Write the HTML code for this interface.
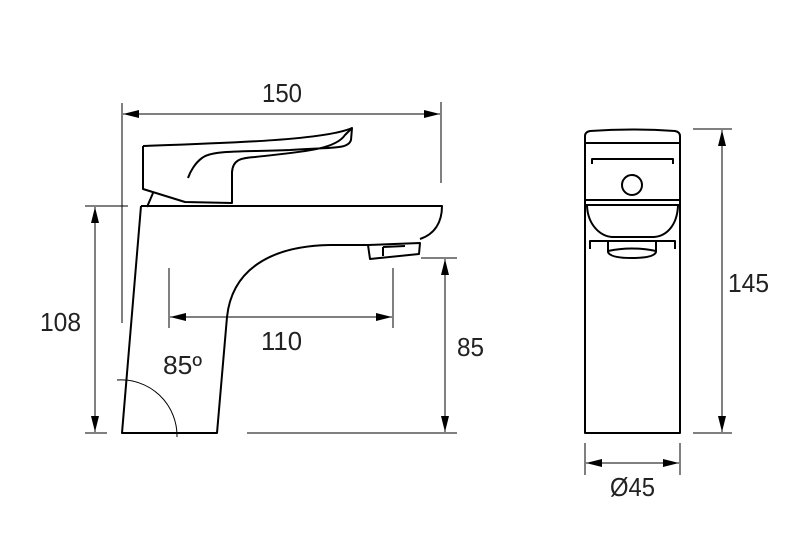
<!DOCTYPE html>
<html><head><style>
html,body{margin:0;padding:0;background:#fff;}
svg{display:block;}
text{font-family:"Liberation Sans",sans-serif;font-size:26px;fill:#222;}
</style></head><body>
<svg width="808" height="539" viewBox="0 0 808 539">
<defs>
<marker id="a" viewBox="0 0 16 8" refX="16" refY="4" markerWidth="16" markerHeight="8" orient="auto-start-reverse" markerUnits="userSpaceOnUse">
<path d="M0,0 L16,4 L0,8 Z" fill="#000"/></marker>
</defs>
<g stroke="#000" stroke-width="1" fill="none">
<line x1="122" y1="103" x2="122" y2="323"/>
<line x1="441" y1="102" x2="441" y2="183"/>
<line x1="123" y1="114" x2="440" y2="114" marker-start="url(#a)" marker-end="url(#a)"/>
<line x1="85" y1="206" x2="128" y2="206"/>
<line x1="85" y1="433" x2="107" y2="433"/>
<line x1="95" y1="207" x2="95" y2="432" marker-start="url(#a)" marker-end="url(#a)"/>
<line x1="169" y1="268" x2="169" y2="328"/>
<line x1="393" y1="268" x2="393" y2="328"/>
<line x1="170" y1="317" x2="392" y2="317" marker-start="url(#a)" marker-end="url(#a)"/>
<line x1="421" y1="258" x2="457" y2="258"/>
<line x1="247" y1="433" x2="457" y2="433"/>
<line x1="445" y1="259" x2="445" y2="432" marker-start="url(#a)" marker-end="url(#a)"/>
<path d="M117,380 A56,56 0 0 1 177,437"/>
<line x1="693" y1="129" x2="732" y2="129"/>
<line x1="693" y1="433" x2="732" y2="433"/>
<line x1="722" y1="130" x2="722" y2="432" marker-start="url(#a)" marker-end="url(#a)"/>
<line x1="585" y1="443" x2="585" y2="475"/>
<line x1="680" y1="443" x2="680" y2="475"/>
<line x1="586" y1="463" x2="679" y2="463" marker-start="url(#a)" marker-end="url(#a)"/>
</g>
<g stroke="#000" stroke-width="2" fill="none" stroke-linejoin="round">
<path d="M141,206 L122,433 L217,433 L227,317 C232,270 270,246 330,245 L368,245"/>
<path d="M141,206 L442,206 C442,222 435,234 420,239"/>
<path d="M368,245 L420,243 L419,254 L370,259 Z"/>
<path d="M383,247 L383,256 M383,247 L405,246"/>
<path d="M147,207 L153,193"/>
<path d="M143,146 L143,189 L185,202 L232,203 L232,172 C233,160 240,158 255,157 C300,152 335,150 345,135 L352,128 L351,140 C348,150 330,147 290,150 C240,152 212,150 202,158 C195,163 190,172 188,178"/>
<path d="M143,146 C230,143 325,140 352,128"/>
<path d="M585,433 L585,136 Q585,132 590,131 Q632,128 675,131 Q680,132 680,136 L680,433 Z"/>
<line x1="585" y1="143" x2="680" y2="143"/>
<line x1="585" y1="200" x2="680" y2="200"/>
<line x1="585" y1="205" x2="680" y2="205"/>
<path d="M592,164 L592,159 L673,159 L673,164"/>
<circle cx="632" cy="185" r="10"/>
<path d="M587,206 C588,225 600,236 612,237 L654,237 C667,236 677,225 678,206"/>
<path d="M590,249 L590,241 L675,241 L675,249"/>
<path d="M608,240 L608,252 Q610,258 632,258 Q654,258 656,252 L656,240"/>
<path d="M608,251 Q632,246 656,251"/>
</g>
<text x="262" y="102" textLength="40" lengthAdjust="spacingAndGlyphs">150</text>
<text x="40" y="331" textLength="41" lengthAdjust="spacingAndGlyphs">108</text>
<text x="261" y="350" textLength="41" lengthAdjust="spacingAndGlyphs">110</text>
<text x="163" y="374" textLength="39" lengthAdjust="spacingAndGlyphs">85º</text>
<text x="457" y="356" textLength="27" lengthAdjust="spacingAndGlyphs">85</text>
<text x="728" y="292" textLength="41" lengthAdjust="spacingAndGlyphs">145</text>
<text x="610" y="496" textLength="45" lengthAdjust="spacingAndGlyphs">Ø45</text>
</svg>
</body></html>
